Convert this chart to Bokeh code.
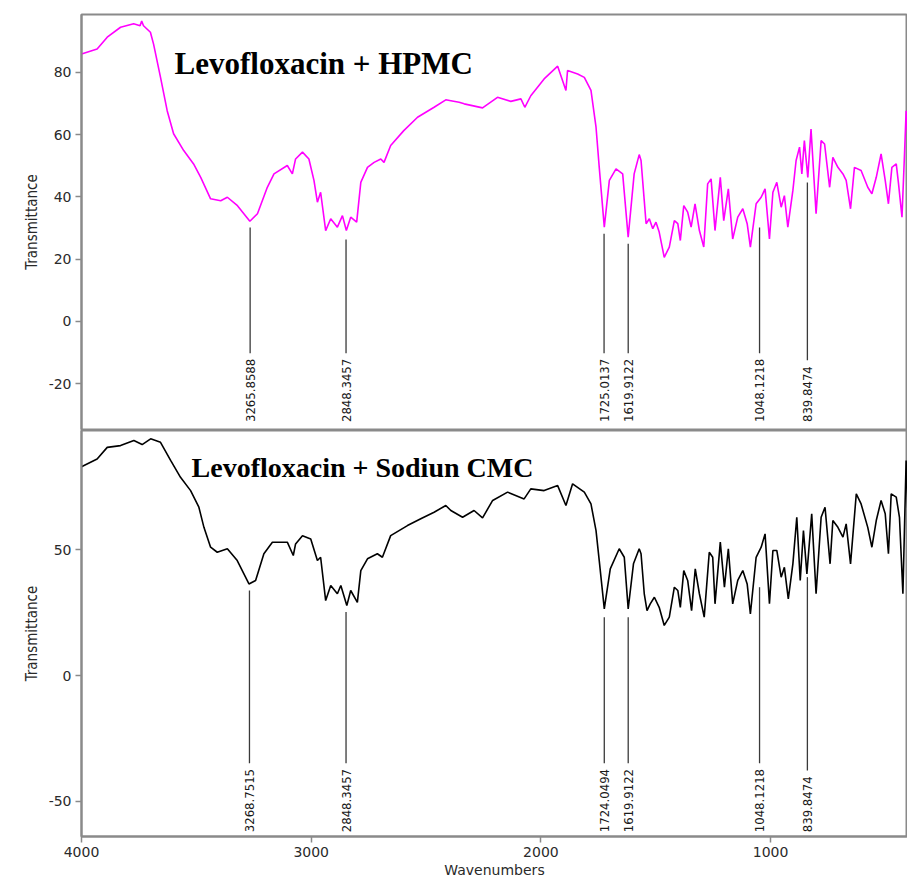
import math
from bokeh.plotting import figure
from bokeh.models import Range1d, FixedTicker, Label, ColumnDataSource
from bokeh.layouts import column
from bokeh.core.properties import value
from bokeh.embed import file_html
from bokeh.resources import INLINE

# ---------------- data ----------------
hpmc_wn = [4000, 3932, 3888, 3830, 3773, 3745, 3738, 3730, 3700, 3686, 3656, 3627, 3599, 3555,
           3512, 3481, 3438, 3394, 3365, 3321, 3267, 3234, 3191, 3162, 3104, 3082, 3068, 3038,
           3010, 2988, 2973, 2959, 2937, 2915, 2886, 2864, 2847, 2828, 2802, 2784, 2755, 2726,
           2697, 2683, 2654, 2597, 2537, 2465, 2414, 2392, 2356, 2334, 2254, 2189, 2131, 2087,
           2070, 2044, 1986, 1927, 1891, 1884, 1840, 1811, 1782, 1760, 1746, 1724, 1702, 1673,
           1644, 1620, 1594, 1572, 1564, 1550, 1542, 1528, 1513, 1499, 1485, 1463, 1441, 1419,
           1404, 1393, 1378, 1361, 1346, 1329, 1310, 1291, 1274, 1259, 1242, 1219, 1204, 1184,
           1165, 1143, 1121, 1102, 1088, 1063, 1041, 1024, 1005, 990, 973, 954, 940, 925, 903,
           889, 874, 864, 853, 838, 824, 802, 780, 765, 743, 729, 707, 685, 671, 652, 635, 606,
           577, 559, 540, 519, 501, 487, 472, 453, 443, 428, 417, 410, 401]
hpmc_t = [85.9, 87.5, 91.3, 94.5, 95.6, 95.0, 96.5, 95.0, 92.9, 89.0, 78.4, 67.7, 60.3, 54.9,
          50.6, 46.3, 39.4, 38.8, 39.9, 37.2, 32.2, 34.6, 43.1, 47.4, 50.1, 47.4, 52.2, 54.4,
          52.2, 45.3, 38.3, 41.5, 29.2, 33.0, 30.3, 34.0, 29.2, 33.5, 31.9, 44.7, 49.5, 51.1,
          52.2, 51.1, 56.5, 61.3, 65.6, 68.8, 71.2, 70.9, 70.4, 69.9, 68.6, 72.0, 70.7, 71.5,
          68.8, 72.5, 77.9, 82.0, 74.2, 80.6, 79.5, 78.4, 74.2, 62.4, 49.5, 30.3, 45.3, 49.0,
          47.4, 27.1, 47.4, 53.6, 51.7, 38.8, 31.4, 33.0, 29.8, 31.9, 28.7, 20.6, 23.9, 32.4,
          31.4, 26.0, 37.2, 35.1, 30.3, 37.8, 29.2, 23.9, 44.2, 45.8, 29.2, 46.3, 32.4, 42.6,
          26.5, 33.5, 36.2, 31.4, 23.9, 37.8, 39.9, 42.6, 26.5, 41.5, 44.7, 36.7, 40.4, 30.3, 42.1,
          51.7, 56.0, 47.4, 58.1, 46.3, 61.8, 34.6, 58.1, 57.0, 43.1, 52.7, 49.5, 47.4, 45.3, 36.2,
          49.5, 48.5, 43.1, 41.0, 46.3, 53.8, 45.3, 37.8, 49.5, 50.6, 44.2, 33.5, 53.8, 67.7, 58.1]

cmc_wn = [4000, 3932, 3888, 3830, 3772, 3736, 3699, 3656, 3612, 3569, 3525, 3489, 3467, 3438,
          3409, 3365, 3322, 3271, 3242, 3206, 3169, 3104, 3078, 3068, 3038, 3002, 2973, 2959,
          2937, 2915, 2886, 2871, 2845, 2828, 2799, 2784, 2755, 2712, 2690, 2654, 2581, 2523,
          2465, 2414, 2392, 2341, 2291, 2254, 2210, 2145, 2073, 2044, 1986, 1927, 1891, 1862,
          1811, 1782, 1760, 1746, 1724, 1698, 1659, 1637, 1620, 1597, 1572, 1564, 1550, 1538,
          1524, 1506, 1485, 1463, 1441, 1419, 1404, 1393, 1378, 1361, 1344, 1328, 1310, 1289,
          1267, 1252, 1242, 1219, 1201, 1184, 1165, 1143, 1121, 1102, 1088, 1063, 1041, 1024,
          1005, 990, 973, 954, 940, 923, 903, 886, 871, 857, 842, 821, 802, 780, 763, 741, 729,
          707, 685, 671, 652, 627, 606, 577, 559, 540, 519, 501, 487, 475, 453, 439, 424, 410, 401]
cmc_t = [83.0, 86.1, 90.7, 91.4, 93.4, 91.8, 94.1, 92.7, 85.5, 78.8, 73.5, 66.9, 58.9, 51.0,
         49.0, 50.4, 45.7, 36.4, 37.8, 48.4, 53.0, 53.0, 47.7, 52.3, 55.6, 54.3, 45.7, 47.0,
         29.8, 35.8, 32.5, 35.8, 27.8, 33.8, 29.1, 41.7, 46.4, 48.4, 47.0, 55.6, 59.6, 62.3,
         64.9, 67.6, 65.6, 62.9, 65.6, 62.7, 69.6, 72.9, 70.2, 74.2, 73.5, 75.5, 67.6, 76.2,
         72.9, 68.2, 57.6, 45.7, 26.5, 42.4, 50.4, 47.0, 26.5, 44.4, 50.4, 48.4, 32.5, 25.8,
         28.5, 31.1, 27.1, 19.9, 23.2, 35.1, 33.8, 27.1, 41.7, 37.8, 25.8, 42.4, 32.5, 23.2,
         49.0, 47.0, 28.5, 53.0, 35.1, 50.4, 28.5, 37.8, 41.7, 36.4, 24.5, 47.0, 51.0, 56.3,
         28.5, 49.7, 49.7, 39.1, 43.0, 30.5, 44.4, 62.9, 37.8, 57.6, 40.4, 64.3, 32.5, 62.9, 66.9,
         44.4, 61.6, 58.9, 55.0, 60.3, 44.4, 72.2, 68.2, 58.9, 51.0, 61.6, 69.6, 64.3, 48.4, 72.2,
         70.9, 62.9, 32.5, 85.5, 61.6]

hpmc_peak_wn = [3265.8588, 2848.3457, 1725.0137, 1619.9122, 1048.1218, 839.8474]
hpmc_peak_t = [30.2, 26.3, 28.2, 25.0, 30.2, 44.6]
hpmc_peak_labels = ["3265.8588", "2848.3457", "1725.0137", "1619.9122", "1048.1218", "839.8474"]

cmc_peak_wn = [3268.7515, 2848.3457, 1724.0494, 1619.9122, 1048.1218, 839.8474]
cmc_peak_t = [33.8, 25.2, 23.2, 23.2, 35.1, 39.1]
cmc_peak_labels = ["3268.7515", "2848.3457", "1724.0494", "1619.9122", "1048.1218", "839.8474"]

x_ticks = [4000, 3000, 2000, 1000]
hpmc_y_ticks = [-20, 0, 20, 40, 60, 80]
cmc_y_ticks = [-50, 0, 50]

# ---------------- style ----------------
FRAME_W = 826
GRAY = "#8a8a8a"
TXT = "#2a2a2a"
X_START, X_END = 4000, 404


def style_axes(p, yticks):
    p.yaxis.ticker = FixedTicker(ticks=yticks)
    p.yaxis.major_label_overrides = {t: str(t) for t in yticks}
    p.yaxis.axis_label = "Transmittance"
    p.yaxis.axis_label_text_font = "DejaVu Sans Condensed"
    p.yaxis.axis_label_text_font_size = "15px"
    p.yaxis.axis_label_text_font_style = "normal"
    p.yaxis.axis_label_text_color = TXT
    p.yaxis.axis_label_standoff = 5
    for ax in p.axis:
        ax.axis_line_color = GRAY
        ax.axis_line_width = 2
        ax.major_tick_line_color = GRAY
        ax.major_tick_line_width = 1.5
        ax.major_tick_out = 6
        ax.major_tick_in = 0
        ax.minor_tick_line_color = None
        ax.major_label_text_font = "DejaVu Sans"
        ax.major_label_text_font_size = "14px"
        ax.major_label_text_color = TXT
        ax.major_label_standoff = 4
    p.grid.visible = False
    p.outline_line_color = GRAY
    p.outline_line_width = 2
    p.background_fill_color = "white"
    p.border_fill_color = "white"


def add_peaks(p, wn, tops, labels, label_bottom, px_per_unit):
    char_px = 7.1
    gap_px = 5
    bottoms = [label_bottom + (len(s) * char_px + gap_px) / px_per_unit for s in labels]
    src = ColumnDataSource(dict(x=wn, y0=tops, y1=bottoms, ylab=[label_bottom] * len(wn), text=labels))
    p.segment(x0="x", y0="y0", x1="x", y1="y1", source=src, line_color="#3a3a3a", line_width=1.3)
    p.text(x="x", y="ylab", text="text", source=src, angle=math.pi / 2,
           text_align="left", text_baseline="middle",
           text_font=value("DejaVu Sans Condensed"), text_font_size="13px", text_color="#1a1a1a")


# ---------------- top panel (HPMC) ----------------
top_y0, top_y1 = -34.7, 98.6
top_fh = 415
p1 = figure(frame_width=FRAME_W, frame_height=top_fh, output_backend="svg", toolbar_location=None,
            x_range=Range1d(X_START, X_END), y_range=Range1d(top_y0, top_y1),
            x_axis_location=None, min_border_left=81, min_border_right=0,
            min_border_top=14, min_border_bottom=1)
style_axes(p1, hpmc_y_ticks)
p1.line(hpmc_wn, hpmc_t, line_color="#ff00ff", line_width=1.6)
add_peaks(p1, hpmc_peak_wn, hpmc_peak_t, hpmc_peak_labels, -32.3, top_fh / (top_y1 - top_y0))
p1.add_layout(Label(x=3595, y=82.8, text="Levofloxacin + HPMC", text_font="Liberation Serif",
                    text_font_style="bold", text_font_size="31px", text_color="black",
                    text_baseline="alphabetic"))

# ---------------- bottom panel (Sodium CMC) ----------------
bot_y0, bot_y1 = -64.0, 97.4
bot_fh = 406
p2 = figure(frame_width=FRAME_W, frame_height=bot_fh, output_backend="svg", toolbar_location=None,
            x_range=Range1d(X_START, X_END), y_range=Range1d(bot_y0, bot_y1),
            min_border_left=81, min_border_right=0, min_border_top=0, min_border_bottom=45)
style_axes(p2, cmc_y_ticks)
p2.xaxis.ticker = FixedTicker(ticks=x_ticks)
p2.xaxis.axis_label = "Wavenumbers"
p2.xaxis.axis_label_text_font = "DejaVu Sans"
p2.xaxis.axis_label_text_font_size = "14px"
p2.xaxis.axis_label_text_font_style = "normal"
p2.xaxis.axis_label_text_color = TXT
p2.xaxis.axis_label_standoff = 2
p2.line(cmc_wn, cmc_t, line_color="black", line_width=1.6)
add_peaks(p2, cmc_peak_wn, cmc_peak_t, cmc_peak_labels, -62.3, bot_fh / (bot_y1 - bot_y0))
p2.add_layout(Label(x=3521, y=82.7, text="Levofloxacin + Sodiun CMC", text_font="Liberation Serif",
                    text_font_style="bold", text_font_size="28px", text_color="black",
                    text_baseline="alphabetic"))

layout = column(p1, p2, spacing=0)
open("out.html", "w").write(file_html(layout, INLINE))
